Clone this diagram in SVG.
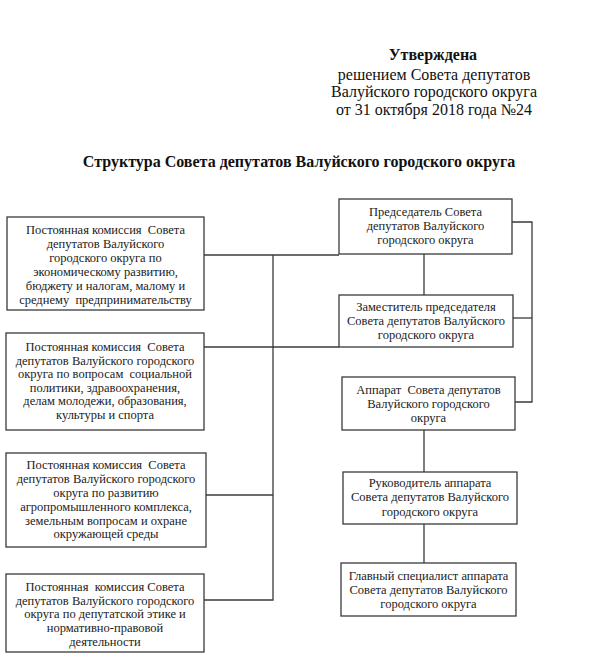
<svg xmlns="http://www.w3.org/2000/svg" width="600" height="661" viewBox="0 0 600 661">
<style>
.bx{fill:#fff;stroke:#3a3a3a;stroke-width:1.3}
.t{font-family:"Liberation Serif","Times New Roman",serif;font-size:12.5px;fill:#222;text-anchor:middle;white-space:pre}
.h{font-family:"Liberation Serif","Times New Roman",serif;font-size:16px;fill:#111;text-anchor:middle}
.c{fill:none;stroke:#3a3a3a;stroke-width:1.3}
</style>
<rect width="600" height="661" fill="#fff"/>
<g id="header">
<text class="h" x="433" y="60" font-weight="bold">Утверждена</text>
<text class="h" x="434" y="80">решением Совета депутатов</text>
<text class="h" x="434" y="97">Валуйского городского округа</text>
<text class="h" x="434" y="115">от 31 октября 2018 года №24</text>
<text class="h" x="299" y="167" font-weight="bold">Структура Совета депутатов Валуйского городского округа</text>
</g>
<g id="connectors">
<path class="c" d="M204,255 H339"/>
<path class="c" d="M204,347 H339"/>
<path class="c" d="M273,255 V600 H204"/>
<path class="c" d="M206,495 H273"/>
<path class="c" d="M424,254 V295"/>
<path class="c" d="M512,222 H532 V402 H515"/>
<path class="c" d="M513,318 H532"/>
<path class="c" d="M424,430 V472"/>
<path class="c" d="M424,524 V563"/>
</g>
<g id="k1">
<rect class="bx" x="7" y="217" width="197" height="93"/>
<text class="t" xml:space="preserve" x="105.5" y="234">Постоянная комиссия  Совета</text>
<text class="t" x="105.5" y="248">депутатов Валуйского</text>
<text class="t" x="105.5" y="262">городского округа по</text>
<text class="t" x="105.5" y="276">экономическому развитию,</text>
<text class="t" x="105.5" y="290">бюджету и налогам, малому и</text>
<text class="t" xml:space="preserve" x="105.5" y="304">среднему  предпринимательству</text>
</g>
<g id="k2">
<rect class="bx" x="6" y="333" width="198" height="97"/>
<text class="t" xml:space="preserve" x="105" y="351">Постоянная комиссия  Совета</text>
<text class="t" x="105" y="365">депутатов Валуйского городского</text>
<text class="t" xml:space="preserve" x="105" y="378">округа по вопросам  социальной</text>
<text class="t" x="105" y="392">политики, здравоохранения,</text>
<text class="t" x="105" y="405">делам молодежи, образования,</text>
<text class="t" x="105" y="419">культуры и спорта</text>
</g>
<g id="k3">
<rect class="bx" x="6" y="453" width="200" height="94"/>
<text class="t" xml:space="preserve" x="106" y="469">Постоянная комиссия  Совета</text>
<text class="t" x="106" y="483">депутатов Валуйского городского</text>
<text class="t" x="106" y="497">округа по развитию</text>
<text class="t" x="106" y="511">агропромышленного комплекса,</text>
<text class="t" x="106" y="525">земельным вопросам и охране</text>
<text class="t" x="106" y="538">окружающей среды</text>
</g>
<g id="k4">
<rect class="bx" x="6" y="574" width="198" height="78"/>
<text class="t" xml:space="preserve" x="105" y="591">Постоянная  комиссия Совета</text>
<text class="t" x="105" y="605">депутатов Валуйского городского</text>
<text class="t" x="105" y="618">округа по депутатской этике и</text>
<text class="t" x="105" y="632">нормативно-правовой</text>
<text class="t" x="105" y="646">деятельности</text>
</g>
<g id="chair">
<rect class="bx" x="339" y="199" width="173" height="55"/>
<text class="t" x="425.5" y="216">Председатель Совета</text>
<text class="t" x="425.5" y="230">депутатов Валуйского</text>
<text class="t" x="425.5" y="244">городского округа</text>
</g>
<g id="deputy">
<rect class="bx" x="339" y="295" width="174" height="52"/>
<text class="t" x="426" y="311">Заместитель председателя</text>
<text class="t" x="426" y="325">Совета депутатов Валуйского</text>
<text class="t" x="426" y="339">городского округа</text>
</g>
<g id="apparat">
<rect class="bx" x="342" y="377" width="173" height="53"/>
<text class="t" xml:space="preserve" x="428.5" y="394">Аппарат  Совета депутатов</text>
<text class="t" x="428.5" y="408">Валуйского городского</text>
<text class="t" x="428.5" y="422">округа</text>
</g>
<g id="head">
<rect class="bx" x="343" y="472" width="174" height="52"/>
<text class="t" x="430" y="487">Руководитель аппарата</text>
<text class="t" x="430" y="501">Совета депутатов Валуйского</text>
<text class="t" x="430" y="516">городского округа</text>
</g>
<g id="specialist">
<rect class="bx" x="341" y="563" width="175" height="53"/>
<text class="t" x="428.5" y="580">Главный специалист аппарата</text>
<text class="t" x="428.5" y="594">Совета депутатов Валуйского</text>
<text class="t" x="428.5" y="608">городского округа</text>
</g>
</svg>
